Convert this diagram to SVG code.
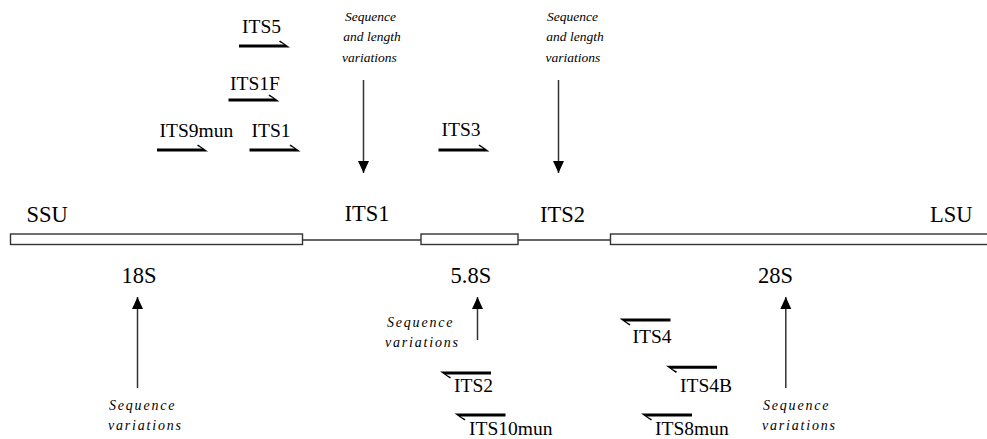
<svg xmlns="http://www.w3.org/2000/svg" width="987" height="439" viewBox="0 0 987 439">
<style>
.lbl{font-family:"Liberation Serif","Times New Roman",serif;font-size:22.5px;fill:#000}
.pr{font-family:"Liberation Serif","Times New Roman",serif;font-size:19.5px;fill:#000}
.it{font-family:"Liberation Serif","Times New Roman",serif;font-style:italic;font-size:13.5px;fill:#000}
.its{font-family:"Liberation Serif","Times New Roman",serif;font-style:italic;font-size:14px;letter-spacing:1.8px;fill:#000}
.bar{fill:#fff;stroke:#333;stroke-width:1.4}
.link{stroke:#333;stroke-width:1.3;fill:none}
.conn{stroke:#333;stroke-width:1.5;fill:none}
.prim{fill:#000}
</style>
<defs>
<marker id="ah" markerUnits="userSpaceOnUse" markerWidth="12" markerHeight="13" viewBox="0 0 12 11" refX="12" refY="5.5" orient="auto">
<path d="M0,0 L12,5.5 L0,11 Z" fill="#000"/>
</marker>
<path id="fwd" class="prim" d="M0,-1.5 H45 L40,-4.3 L41,-5.6 L51,1.5 H0 Z"/>
</defs>
<rect width="987" height="439" fill="#fff"/>

<g id="gene">
<rect class="bar" x="10.5" y="234" width="292" height="10.5"/>
<line class="link" x1="302.5" y1="240" x2="421" y2="240"/>
<rect class="bar" x="421" y="234" width="97" height="10.5"/>
<line class="link" x1="518" y1="240" x2="610.5" y2="240"/>
<rect class="bar" x="610.5" y="234" width="385" height="10.5"/>
</g>

<g id="region-labels">
<text class="lbl" x="26.5" y="221.5">SSU</text>
<text class="lbl" x="344.5" y="221">ITS1</text>
<text class="lbl" x="540" y="222">ITS2</text>
<text class="lbl" x="930" y="221.5">LSU</text>
<text class="lbl" x="121.5" y="283">18S</text>
<text class="lbl" x="450.5" y="282.5">5.8S</text>
<text class="lbl" x="758" y="282.7">28S</text>
</g>

<g id="primer-ITS5"><text class="pr" x="242" y="33">ITS5</text><use href="#fwd" transform="translate(239,46)"/></g>
<g id="primer-ITS1F"><text class="pr" x="230" y="89.5">ITS1F</text><use href="#fwd" transform="translate(228.5,100)"/></g>
<g id="primer-ITS9mun"><text class="pr" x="159.5" y="136.7">ITS9mun</text><use href="#fwd" transform="translate(157,150)"/></g>
<g id="primer-ITS1"><text class="pr" x="251.5" y="136.7">ITS1</text><use href="#fwd" transform="translate(249.5,150)"/></g>
<g id="primer-ITS3"><text class="pr" x="441.5" y="136">ITS3</text><use href="#fwd" transform="translate(438.5,150)"/></g>

<g id="primer-ITS2"><text class="pr" x="454" y="391.5">ITS2</text><use href="#fwd" transform="translate(491,373) rotate(180)"/></g>
<g id="primer-ITS10mun"><text class="pr" x="469" y="435">ITS10mun</text><use href="#fwd" transform="translate(505.5,415) rotate(180)"/></g>
<g id="primer-ITS4"><text class="pr" x="632.5" y="343.3">ITS4</text><use href="#fwd" transform="translate(670.5,320) rotate(180)"/></g>
<g id="primer-ITS4B"><text class="pr" x="680" y="391.5">ITS4B</text><use href="#fwd" transform="translate(717,367.3) rotate(180)"/></g>
<g id="primer-ITS8mun"><text class="pr" x="655" y="435">ITS8mun</text><use href="#fwd" transform="translate(692,415) rotate(180)"/></g>

<g id="note-its1">
<text class="it" text-anchor="middle" x="370.5" y="20.5">Sequence</text>
<text class="it" text-anchor="middle" x="372" y="41">and length</text>
<text class="it" text-anchor="middle" x="369.5" y="61.5">variations</text>
</g>
<g id="note-its2">
<text class="it" text-anchor="middle" x="572.5" y="20.5">Sequence</text>
<text class="it" text-anchor="middle" x="575" y="41">and length</text>
<text class="it" text-anchor="middle" x="573" y="61.5">variations</text>
</g>
<g id="note-18s">
<text class="its" x="109" y="410">Sequence</text>
<text class="its" x="108" y="430">variations</text>
</g>
<g id="note-58s">
<text class="its" x="387" y="327">Sequence</text>
<text class="its" x="385" y="347">variations</text>
</g>
<g id="note-28s">
<text class="its" x="763" y="410">Sequence</text>
<text class="its" x="762" y="430">variations</text>
</g>

<g id="connectors">
<line class="conn" x1="363.5" y1="80" x2="363.5" y2="173" marker-end="url(#ah)"/>
<line class="conn" x1="558.5" y1="80" x2="558.5" y2="173" marker-end="url(#ah)"/>
<line class="conn" x1="137.5" y1="388" x2="137.5" y2="297" marker-end="url(#ah)"/>
<line class="conn" x1="477.5" y1="340" x2="477.5" y2="297" marker-end="url(#ah)"/>
<line class="conn" x1="785.8" y1="388" x2="785.8" y2="297" marker-end="url(#ah)"/>
</g>
</svg>
